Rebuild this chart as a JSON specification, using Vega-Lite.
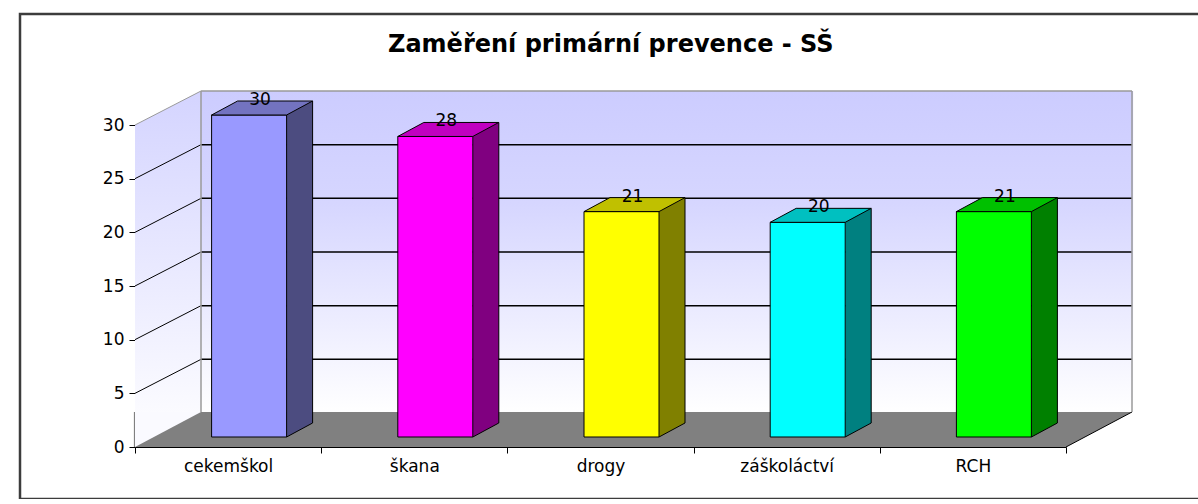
{
  "$schema": "https://vega.github.io/schema/vega-lite/v6.json",
  "autosize": "none",
  "padding": {"left": 20, "top": 14, "right": -12, "bottom": 0},
  "width": 1190,
  "height": 485,
  "background": "white",
  "view": {"stroke": "#3c3c3c", "strokeWidth": 2.5},
  "title": {"text": "Zaměření primární prevence - SŠ", "font": "DejaVu Sans", "fontSize": 24, "fontWeight": "bold", "anchor": "start", "frame": "group", "dx": 368, "offset": -62, "baseline": "alphabetic", "color": "#000000"},
  "config": {
    "font": "DejaVu Sans",
    "axis": {"grid": false, "domainColor": "#000000", "tickColor": "#000000", "labelColor": "#000000", "labelFont": "DejaVu Sans", "labelFontSize": 17, "tickSize": 6, "domainWidth": 1, "tickWidth": 1, "zindex": 1},
    "axisX": {"offset": -52, "labelAngle": 0, "labelPadding": 5, "tickBand": "extent"},
    "axisY": {"offset": -115, "labelPadding": 5, "tickCount": 6}
  },
  "datasets": {
    "bars": [
      {"cat": "cekemškol", "value": 30},
      {"cat": "škana", "value": 28},
      {"cat": "drogy", "value": 21},
      {"cat": "záškoláctví", "value": 20},
      {"cat": "RCH", "value": 21}
    ],
    "grid": [{"v": 5}, {"v": 10}, {"v": 15}, {"v": 20}, {"v": 25}],
    "one": [{"k": 1}]
  },
  "data": {"name": "bars"},
  "resolve": {"scale": {"fill": "independent"}},
  "layer": [
    {
      "mark": {"type": "bar", "width": {"band": 1.012}, "xOffset": 66, "yOffset": -34, "y2Offset": -34, "fill": {"gradient": "linear", "x1": 0, "y1": 0, "x2": 0, "y2": 1, "stops": [{"offset": 0, "color": "#ccccff"}, {"offset": 0.35, "color": "#d6d6ff"}, {"offset": 1, "color": "#ffffff"}]}},
      "encoding": {
        "x": {"field": "cat", "type": "nominal", "sort": null, "title": null, "scale": {"domain": ["cekemškol", "škana", "drogy", "záškoláctví", "RCH"], "range": [115, 1046], "paddingInner": 0, "paddingOuter": 0}},
        "y": {"datum": 30, "type": "quantitative", "title": null, "scale": {"domain": [0, 30], "range": [433, 111], "nice": false, "zero": false}},
        "y2": {"datum": 0}
      }
    },
    {
      "data": {"name": "one"},
      "mark": {"type": "bar", "width": 66, "xOffset": -60.1, "yOffset": -34, "fill": {"gradient": "linear", "x1": 0, "y1": 0, "x2": 0, "y2": 1, "stops": [{"offset": 0, "color": "#d4d4ff"}, {"offset": 1, "color": "#ffffff"}]}},
      "encoding": {
        "x": {"datum": "cekemškol", "type": "nominal"},
        "y": {"datum": 30, "type": "quantitative"},
        "y2": {"datum": 0}
      }
    },
    {
      "data": {"name": "one"},
      "mark": {"type": "point", "shape": "M-93.1,0 L-93.1,-40 L-27.1,-40 L-27.1,-34 Z", "size": 4, "filled": true, "fill": "#ffffff", "strokeWidth": 0, "opacity": 1},
      "encoding": {
        "x": {"datum": "cekemškol", "type": "nominal"},
        "y": {"datum": 30, "type": "quantitative"}
      }
    },
    {
      "mark": {"type": "bar", "width": {"band": 1.012}, "yOffset": -35, "fill": "#808080"},
      "encoding": {
        "x": {"field": "cat", "type": "nominal", "sort": null, "title": null},
        "y": {"datum": 0, "type": "quantitative"},
        "y2": {"datum": 0}
      }
    },
    {
      "data": {"name": "one"},
      "mark": {"type": "point", "shape": "M-93.1,-35 L-27.1,-35 L-93.1,0 Z", "size": 4, "filled": true, "fill": "#fafaff", "strokeWidth": 0, "opacity": 1},
      "encoding": {
        "x": {"datum": "cekemškol", "type": "nominal"},
        "y": {"datum": 0, "type": "quantitative"}
      }
    },
    {
      "data": {"name": "one"},
      "mark": {"type": "point", "shape": "M93.1,0 L159.1,-35 L93.1,-35 Z", "size": 4, "filled": true, "fill": "#808080", "strokeWidth": 0, "opacity": 1},
      "encoding": {
        "x": {"datum": "RCH", "type": "nominal"},
        "y": {"datum": 0, "type": "quantitative"}
      }
    },
    {
      "data": {"name": "one"},
      "mark": {"type": "point", "shape": "M93.1,0 L159.1,-35", "size": 4, "filled": false, "stroke": "#000000", "strokeWidth": 1, "opacity": 1},
      "encoding": {
        "x": {"datum": "RCH", "type": "nominal"},
        "y": {"datum": 0, "type": "quantitative"}
      }
    },
    {
      "data": {"name": "grid"},
      "mark": {"type": "point", "shape": "M-93.1,0 L-27.1,-34", "size": 4, "filled": false, "stroke": "#000000", "strokeWidth": 1, "opacity": 1},
      "encoding": {
        "x": {"datum": "cekemškol", "type": "nominal"},
        "y": {"field": "v", "type": "quantitative", "title": null}
      }
    },
    {
      "data": {"name": "grid"},
      "mark": {"type": "rule", "xOffset": -27.1, "x2Offset": 159.1, "yOffset": -34, "y2Offset": -34, "stroke": "#000000", "strokeWidth": 1.5},
      "encoding": {
        "x": {"datum": "cekemškol", "type": "nominal"},
        "x2": {"datum": "RCH"},
        "y": {"field": "v", "type": "quantitative", "title": null},
        "y2": {"field": "v"}
      }
    },
    {
      "data": {"name": "one"},
      "mark": {"type": "rule", "xOffset": -27.1, "x2Offset": 159.1, "yOffset": -34, "y2Offset": -34, "stroke": "#9a9a9a", "strokeWidth": 1.5},
      "encoding": {
        "x": {"datum": "cekemškol", "type": "nominal"},
        "x2": {"datum": "RCH"},
        "y": {"datum": 30, "type": "quantitative"},
        "y2": {"datum": 30}
      }
    },
    {
      "data": {"name": "one"},
      "mark": {"type": "rule", "xOffset": -27.1, "yOffset": -34, "y2Offset": -35, "stroke": "#9a9a9a", "strokeWidth": 1.5},
      "encoding": {
        "x": {"datum": "cekemškol", "type": "nominal"},
        "y": {"datum": 30, "type": "quantitative"},
        "y2": {"datum": 0}
      }
    },
    {
      "data": {"name": "one"},
      "mark": {"type": "rule", "xOffset": 159.1, "yOffset": -34, "y2Offset": -35, "stroke": "#9a9a9a", "strokeWidth": 1.5},
      "encoding": {
        "x": {"datum": "RCH", "type": "nominal"},
        "y": {"datum": 30, "type": "quantitative"},
        "y2": {"datum": 0}
      }
    },
    {
      "data": {"name": "one"},
      "mark": {"type": "point", "shape": "M-93.1,0 L-27.1,-34", "size": 4, "filled": false, "stroke": "#9a9a9a", "strokeWidth": 1, "opacity": 1},
      "encoding": {
        "x": {"datum": "cekemškol", "type": "nominal"},
        "y": {"datum": 30, "type": "quantitative"}
      }
    },
    {
      "mark": {"type": "bar", "width": 26, "xOffset": 71.5, "yOffset": -24, "y2Offset": -10},
      "encoding": {
        "x": {"field": "cat", "type": "nominal", "sort": null, "title": null},
        "y": {"field": "value", "type": "quantitative", "title": null},
        "y2": {"datum": 0},
        "fill": {"field": "cat", "type": "nominal", "sort": null, "legend": null, "scale": {"domain": ["cekemškol", "škana", "drogy", "záškoláctví", "RCH"], "range": ["#4c4c80", "#800080", "#808000", "#008080", "#008000"]}}
      }
    },
    {
      "mark": {"type": "point", "shape": "M58.5,-10 L58.5,-9 L85.5,-9 L85.5,-24 L84.5,-24 Z", "size": 4, "filled": true, "fill": "#808080", "strokeWidth": 0, "opacity": 1},
      "encoding": {
        "x": {"field": "cat", "type": "nominal", "sort": null, "title": null},
        "y": {"datum": 0, "type": "quantitative"}
      }
    },
    {
      "mark": {"type": "bar", "width": 75, "xOffset": 21, "yOffset": -10, "y2Offset": -10, "stroke": "#000000", "strokeWidth": 1},
      "encoding": {
        "x": {"field": "cat", "type": "nominal", "sort": null, "title": null},
        "y": {"field": "value", "type": "quantitative", "title": null},
        "y2": {"datum": 0},
        "fill": {"field": "cat", "type": "nominal", "sort": null, "legend": null, "scale": {"domain": ["cekemškol", "škana", "drogy", "záškoláctví", "RCH"], "range": ["#9999ff", "#ff00ff", "#ffff00", "#00ffff", "#00ff00"]}}
      }
    },
    {
      "mark": {"type": "point", "shape": "M-16.5,-10 L58.5,-10 L84.5,-24 L9.5,-24 Z", "size": 4, "filled": true, "stroke": "#000000", "strokeWidth": 1, "opacity": 1},
      "encoding": {
        "x": {"field": "cat", "type": "nominal", "sort": null, "title": null},
        "y": {"field": "value", "type": "quantitative", "title": null},
        "fill": {"field": "cat", "type": "nominal", "sort": null, "legend": null, "scale": {"domain": ["cekemškol", "škana", "drogy", "záškoláctví", "RCH"], "range": ["#7373c0", "#c000c0", "#c0c000", "#00c0c0", "#00c000"]}}
      }
    },
    {
      "mark": {"type": "rule", "xOffset": 84.5, "yOffset": -24, "y2Offset": -24, "stroke": "#000000", "strokeWidth": 1},
      "encoding": {
        "x": {"field": "cat", "type": "nominal", "sort": null, "title": null},
        "y": {"field": "value", "type": "quantitative", "title": null},
        "y2": {"datum": 0}
      }
    },
    {
      "mark": {"type": "point", "shape": "M58.5,-10 L84.5,-24", "size": 4, "filled": false, "stroke": "#000000", "strokeWidth": 1, "opacity": 1},
      "encoding": {
        "x": {"field": "cat", "type": "nominal", "sort": null, "title": null},
        "y": {"datum": 0, "type": "quantitative"}
      }
    },
    {
      "mark": {"type": "text", "xOffset": 32, "yOffset": -25, "baseline": "middle", "align": "center", "font": "DejaVu Sans", "fontSize": 17, "color": "#000000"},
      "encoding": {
        "x": {"field": "cat", "type": "nominal", "sort": null, "title": null},
        "y": {"field": "value", "type": "quantitative", "title": null},
        "text": {"field": "value", "type": "quantitative"}
      }
    }
  ]
}
